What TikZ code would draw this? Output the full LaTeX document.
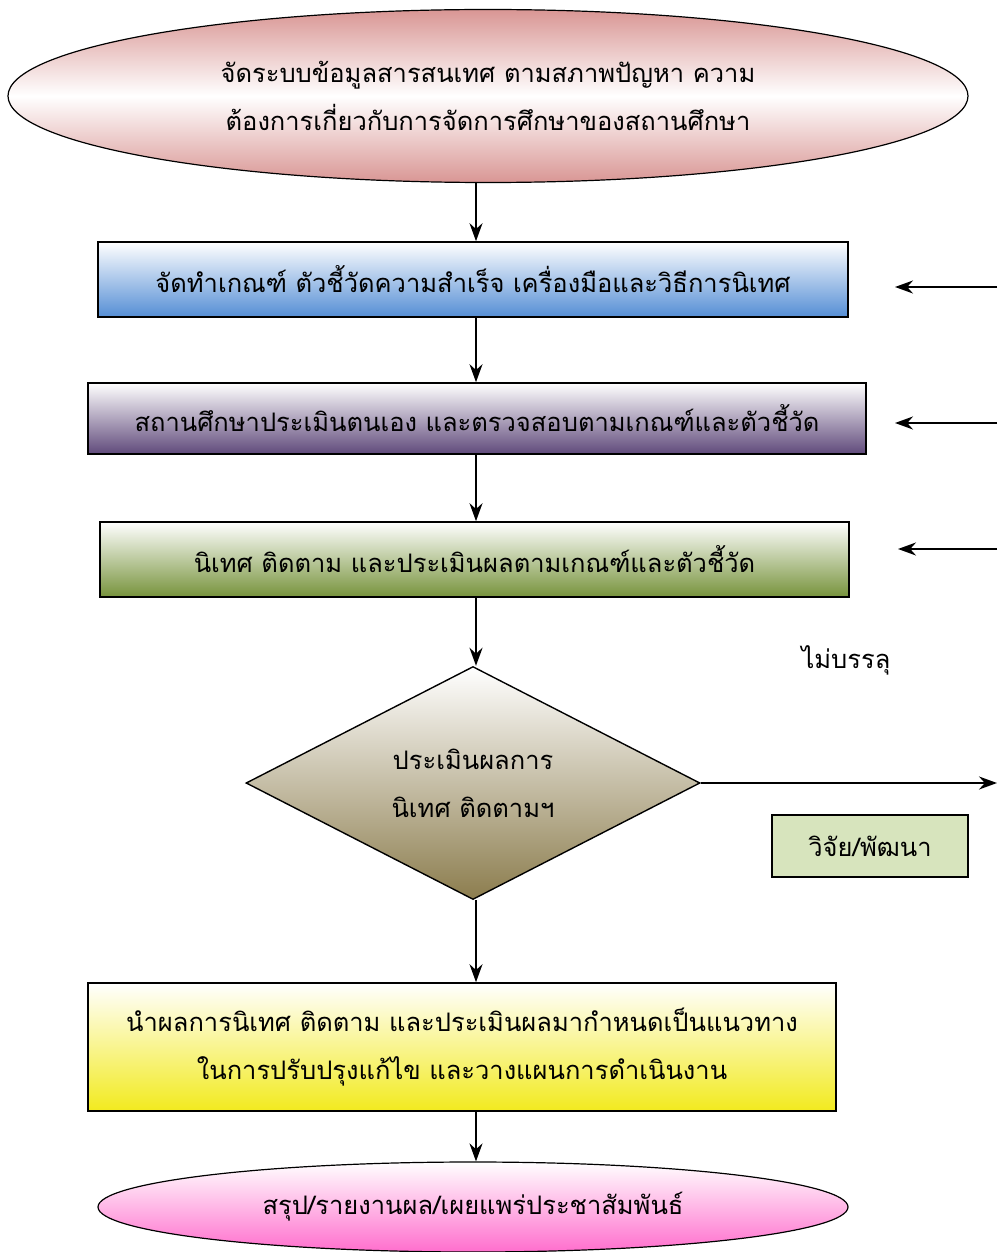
\documentclass[tikz,border=0pt]{standalone}
\usepackage{fontspec}
\usepackage{tikz}
\usetikzlibrary{arrows.meta,shapes.geometric}
\newfontfamily\thaifont[Script=Thai]{Loma}
\definecolor{rosecolor}{RGB}{217, 150, 148}
\definecolor{bluecolor}{RGB}{85, 142, 213}
\definecolor{purplecolor}{RGB}{96, 74, 123}
\definecolor{greencolor}{RGB}{119, 147, 60}
\definecolor{olivecolor}{RGB}{140, 125, 78}
\definecolor{yellowcolor}{RGB}{242, 234, 30}
\definecolor{magentacolor}{RGB}{255, 110, 205}
\definecolor{researchcolor}{RGB}{215, 228, 189}

\begin{document}
\begin{tikzpicture}[x=1pt, y=-1pt,
    thaitext/.style={font=\thaifont\fontsize{25.5}{48}\selectfont, align=center, text=black},
    stepbox/.style={rectangle, draw=black, line width=1.6pt, inner sep=0pt, thaitext},
    flow/.style={draw=black, line width=2pt, -{Stealth[length=18pt, width=13pt]}}]
        \useasboundingbox (0,0) rectangle (997,1252);
        \coordinate (AX) at (476,0);

        % Start & Main Steps
        \node[ellipse, draw=black, line width=1.2pt, top color=rosecolor, bottom color=rosecolor, middle color=white,
              minimum width=960pt, minimum height=173pt, inner sep=0pt, thaitext] (ST) at (488,96)
              {จัดระบบข้อมูลสารสนเทศ ตามสภาพปัญหา ความ\\ต้องการเกี่ยวกับการจัดการศึกษาของสถานศึกษา};
        \node[stepbox, top color=white, bottom color=bluecolor, minimum width=750pt, minimum height=75pt] (CR) at (473,279.5)
              {จัดทำเกณฑ์ ตัวชี้วัดความสำเร็จ เครื่องมือและวิธีการนิเทศ};
        \node[stepbox, top color=white, bottom color=purplecolor, minimum width=778pt, minimum height=71pt] (SA) at (477,418.5)
              {สถานศึกษาประเมินตนเอง และตรวจสอบตามเกณฑ์และตัวชี้วัด};
        \node[stepbox, top color=white, bottom color=greencolor, minimum width=749pt, minimum height=75pt] (SU) at (474.5,559.5)
              {นิเทศ ติดตาม และประเมินผลตามเกณฑ์และตัวชี้วัด};

        % Decision
        \node[diamond, draw=black, line width=1.4pt, top color=white, bottom color=olivecolor,
              minimum width=454pt, minimum height=233pt, inner sep=0pt, thaitext] (EV) at (473,783)
              {ประเมินผลการ\\นิเทศ ติดตามฯ};
        \node[rectangle, draw=black, line width=1.4pt, fill=researchcolor, minimum width=196pt, minimum height=62pt,
              inner sep=0pt, thaitext] (RD) at (870,846) {วิจัย/พัฒนา};
        \node[thaitext] (NP) at (846,660) {ไม่บรรลุ};

        % Result & End
        \node[stepbox, top color=white, bottom color=yellowcolor, minimum width=748pt, minimum height=128pt] (PL) at (462,1047)
              {นำผลการนิเทศ ติดตาม และประเมินผลมากำหนดเป็นแนวทาง\\ในการปรับปรุงแก้ไข และวางแผนการดำเนินงาน};
        \node[ellipse, draw=black, line width=1.2pt, top color=white, bottom color=magentacolor,
              minimum width=750pt, minimum height=90pt, inner sep=0pt, thaitext] (EN) at (473,1207)
              {สรุป/รายงานผล/เผยแพร่ประชาสัมพันธ์};

        % Connections
        \draw[flow] (ST.south -| AX) -- (CR.north -| AX);
        \draw[flow] (CR.south -| AX) -- (SA.north -| AX);
        \draw[flow] (SA.south -| AX) -- (SU.north -| AX);
        \draw[flow] (SU.south -| AX) -- (EV.north -| AX);
        \draw[flow] (EV.south -| AX) -- (PL.north -| AX);
        \draw[flow] (PL.south -| AX) -- (EN.north -| AX);

        % Feedback arrows from the right edge
        \coordinate (FE) at (997,785);
        \draw[flow] (EV.east) -- (EV.east -| FE);
        \foreach \b/\y/\x in {CR/287/895, SA/423/895, SU/549/898} {
            \coordinate (\b-in) at (997,\y);
            \coordinate (\b-tip) at (\x,\y);
            \draw[flow] (\b-in) -- (\b-tip);
        }

    \end{tikzpicture}
\end{document}
